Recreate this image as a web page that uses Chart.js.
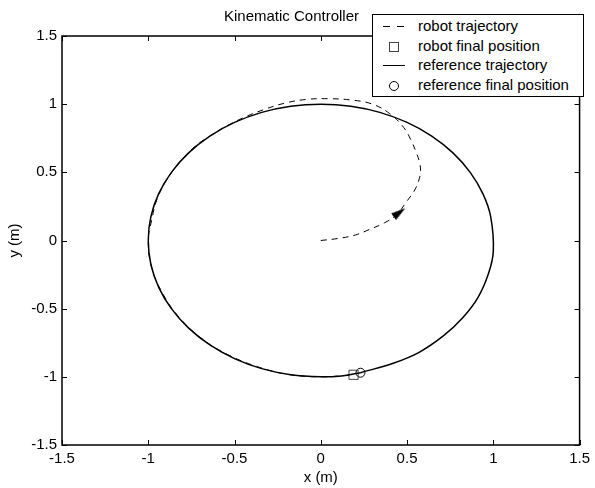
<!DOCTYPE html>
<html>
<head>
<meta charset="utf-8">
<script src="https://cdn.jsdelivr.net/npm/chart.js@4/dist/chart.umd.min.js"></script>
<style>
  body { margin: 0; background: #fff; }
  .wrap { position: relative; width: 595px; height: 488px; }
  .legend {
    position: absolute; left: 372px; top: 14px; width: 210px; height: 81px;
    border: 1px solid #000; background: #fff;
    font-family: 'Liberation Sans', Arial, sans-serif; font-size: 15px; color: #000;
  }
  .legend .row { position: absolute; left: 0; height: 18px; line-height: 18px; }
  .legend .label { position: absolute; left: 45px; white-space: nowrap; }
  .legend .sym { position: absolute; }
  .dash { left: 10px; top: 9px; width: 22px; height: 1px;
    background: repeating-linear-gradient(to right, #000 0 7px, transparent 7px 14px); }
  .solid { left: 10px; top: 9px; width: 22px; border-top: 1px solid #000; }
  .sq { left: 16px; top: 5px; width: 8px; height: 8px; border: 1px solid #444; }
  .circ { left: 16px; top: 5px; width: 8px; height: 8px; border: 1px solid #000; border-radius: 50%; }
</style>
</head>
<body>
<div class="wrap">
  <canvas id="chart" width="595" height="488"></canvas>
  <div class="legend" id="legend"></div>
</div>
<script>
// axis ticks
const xTicks = [-1.5, -1, -0.5, 0, 0.5, 1, 1.5];
const yTicks = [-1.5, -1, -0.5, 0, 0.5, 1, 1.5];

// reference trajectory (x, y), starting near the final position
const refX = [0.23, 0.42, 0.57, 0.71, 0.82, 0.91, 0.97, 1.0, 0.985, 0.94, 0.866, 0.766, 0.643, 0.5,
  0.342, 0.174, 0, -0.174, -0.342, -0.5, -0.643, -0.766, -0.866, -0.94, -0.985, -1.0,
  -0.985, -0.94, -0.866, -0.766, -0.643, -0.5, -0.342, -0.174, 0, 0.12, 0.23];
const refY = [-0.97, -0.9, -0.82, -0.7, -0.57, -0.42, -0.25, -0.08, 0.174, 0.342, 0.5, 0.643, 0.766, 0.866,
  0.94, 0.985, 1.0, 0.985, 0.94, 0.866, 0.766, 0.643, 0.5, 0.342, 0.174, 0,
  -0.174, -0.342, -0.5, -0.643, -0.766, -0.866, -0.94, -0.985, -1.0, -0.993, -0.97];

// robot trajectory (x, y)
const robotX = [0, 0.1, 0.2, 0.28, 0.37, 0.44, 0.5, 0.54, 0.565, 0.578, 0.573, 0.555, 0.525, 0.48, 0.4, 0.3, 0.18,
  0.05, -0.08, -0.2, -0.33, -0.45, -0.56, -0.65, -0.73, -0.82, -0.9, -0.95, -0.98, -1.0,
  -0.98, -0.92, -0.83, -0.7, -0.55, -0.38, -0.2, 0, 0.19];
const robotY = [0, 0.015, 0.04, 0.08, 0.13, 0.19, 0.29, 0.36, 0.43, 0.5, 0.57, 0.64, 0.73, 0.83, 0.93, 1.0, 1.03,
  1.04, 1.035, 1.01, 0.96, 0.9, 0.83, 0.76, 0.69, 0.57, 0.43, 0.3, 0.15, 0,
  -0.2, -0.38, -0.55, -0.71, -0.83, -0.92, -0.98, -1.0, -0.985];

// final positions and direction arrow
const robotFinal = [0.19, -0.985];
const refFinal = [0.23, -0.97];
const arrowPos = [0.455, 0.205];

const legendItems = [
  { cls: 'dash', text: 'robot trajectory' },
  { cls: 'sq', text: 'robot final position' },
  { cls: 'solid', text: 'reference trajectory' },
  { cls: 'circ', text: 'reference final position' },
];

const toPoints = (xs, ys) => xs.map((x, i) => ({ x: x, y: ys[i] }));

// narrow arrow head used as point style (points up before rotation)
function makeArrowHead() {
  const c = document.createElement('canvas');
  c.width = 16;
  c.height = 16;
  const g = c.getContext('2d');
  g.fillStyle = '#000';
  g.beginPath();
  g.moveTo(8, 0.5);
  g.lineTo(12, 15);
  g.lineTo(4, 15);
  g.closePath();
  g.fill();
  return c;
}

Chart.defaults.font.family = "'Liberation Sans', Arial, sans-serif";
Chart.defaults.font.size = 15;
Chart.defaults.color = '#000';

// box around plot area with inward ticks on all sides
const boxPlugin = {
  id: 'box',
  afterDraw(chart) {
    const { ctx, chartArea: a, scales } = chart;
    const len = 5;
    ctx.save();
    ctx.strokeStyle = '#000';
    ctx.lineWidth = 1;
    ctx.beginPath();
    xTicks.forEach(v => {
      const px = Math.round(scales.x.getPixelForValue(v)) + 0.5;
      ctx.moveTo(px, a.bottom); ctx.lineTo(px, a.bottom - len);
      ctx.moveTo(px, a.top); ctx.lineTo(px, a.top + len);
    });
    yTicks.forEach(v => {
      const py = Math.round(scales.y.getPixelForValue(v)) + 0.5;
      ctx.moveTo(a.left, py); ctx.lineTo(a.left + len, py);
      ctx.moveTo(a.right, py); ctx.lineTo(a.right - len, py);
    });
    ctx.stroke();
    ctx.lineWidth = 1.5;
    ctx.strokeRect(a.left, a.top, a.right - a.left, a.bottom - a.top);
    ctx.restore();
  }
};

const chart = new Chart(document.getElementById('chart'), {
  type: 'scatter',
  data: {
    datasets: [
      {
        label: 'reference trajectory',
        data: toPoints(refX, refY),
        showLine: true, borderColor: '#000', borderWidth: 1.5, tension: 0.4,
        pointRadius: 0,
      },
      {
        label: 'robot trajectory',
        data: toPoints(robotX, robotY),
        showLine: true, borderColor: '#000', borderWidth: 1, borderDash: [6, 5], tension: 0.4,
        pointRadius: 0,
      },
      {
        label: 'robot final position',
        data: [{ x: robotFinal[0], y: robotFinal[1] }],
        pointStyle: 'rect', pointRadius: 6.5, borderColor: '#444', borderWidth: 1,
        backgroundColor: 'rgba(0,0,0,0)',
      },
      {
        label: 'reference final position',
        data: [{ x: refFinal[0], y: refFinal[1] }],
        pointStyle: 'circle', pointRadius: 4.5, borderColor: '#000', borderWidth: 1,
        backgroundColor: 'rgba(0,0,0,0)',
      },
      {
        label: 'arrow',
        data: [{ x: arrowPos[0], y: arrowPos[1] }],
        pointStyle: makeArrowHead(), pointRadius: 8, pointRotation: 54,
      },
    ]
  },
  options: {
    responsive: false,
    animation: false,
    layout: { padding: { left: 0, right: 12, top: 0, bottom: 0 } },
    plugins: {
      legend: { display: false },
      tooltip: { enabled: false },
      title: {
        display: true,
        text: 'Kinematic Controller',
        font: { size: 15, weight: 'normal' },
        padding: { top: 8, bottom: 10 },
      },
    },
    scales: {
      x: {
        type: 'linear', min: -1.5, max: 1.5,
        grid: { display: false, drawTicks: false },
        border: { display: false },
        ticks: { stepSize: 0.5, padding: 5, maxRotation: 0, callback: v => String(v) },
        title: { display: true, text: 'x (m)', padding: { top: 0, bottom: 1 } },
        afterFit(axis) { axis.height = 43; },
      },
      y: {
        type: 'linear', min: -1.5, max: 1.5,
        grid: { display: false, drawTicks: false },
        border: { display: false },
        ticks: { stepSize: 0.5, padding: 5, callback: v => String(v) },
        title: { display: true, text: 'y (m)', padding: { top: 6, bottom: 0 } },
        afterFit(axis) { axis.width = 62; },
      },
    },
  },
  plugins: [boxPlugin],
});

// legend box
const legendEl = document.getElementById('legend');
legendItems.forEach((item, i) => {
  const row = document.createElement('div');
  row.className = 'row';
  row.style.top = `${2 + i * 19.7}px`;
  row.style.width = '100%';
  row.innerHTML = `<span class="sym ${item.cls}"></span><span class="label">${item.text}</span>`;
  legendEl.appendChild(row);
});
</script>
</body>
</html>
